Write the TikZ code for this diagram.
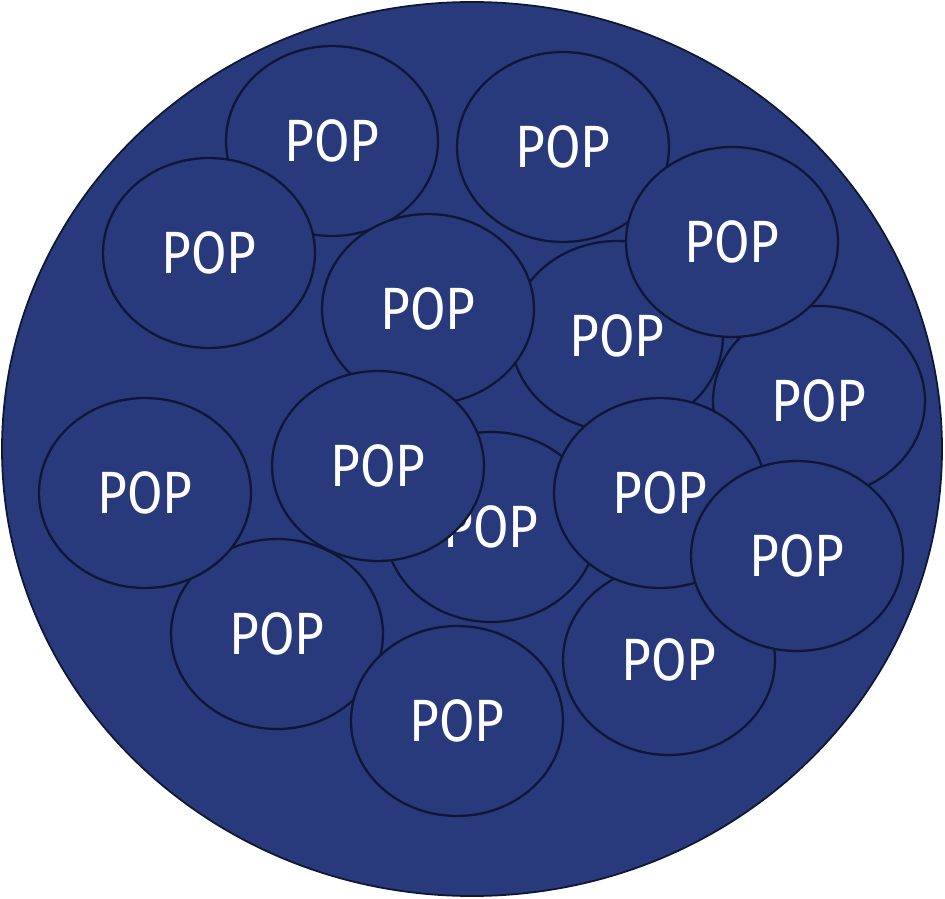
\documentclass[tikz,border=0pt]{standalone}
\usepackage{fontspec}
\usepackage{xcolor}
\usepackage{tikz}
\usetikzlibrary{shapes.geometric}

\newfontfamily\popfont[FakeStretch=0.86]{Fira Sans}
\definecolor{popblue}{HTML}{283A7B}
\definecolor{popline}{HTML}{0E1734}

\begin{document}
\begin{tikzpicture}[
        x=0.02cm, y=-0.02cm,
        font=\popfont\fontsize{34}{40}\selectfont,
        community/.style={
            draw=popline,
            fill=popblue,
            line width=1pt
        },
        pop/.style={
            ellipse,
            draw=popline,
            fill=popblue,
            line width=1.3pt,
            minimum width=4.24cm,
            minimum height=3.8cm,
            inner sep=0pt,
            text=white
        }
    ]
    \useasboundingbox (0,0) rectangle (945,898);

    % Outer community
    \draw [community] (472,449) ellipse [x radius=470, y radius=447];

    % Populations (back to front)
    \node (pop1)  [pop] at (332,141) {POP};
    \node (pop2)  [pop] at (563,147) {POP};
    \node (pop6)  [pop] at (617,336) {POP};
    \node (pop7)  [pop] at (819,401) {POP};
    \node (pop4)  [pop] at (732,242) {POP};
    \node (pop3)  [pop] at (209,253) {POP};
    \node (pop5)  [pop] at (428,309) {POP};
    \node (pop10) [pop] at (491,527) {POP};
    \node (pop13) [pop] at (277,634) {POP};
    \node (pop9)  [pop] at (378,466) {POP};
    \node (pop8)  [pop] at (145,493) {POP};
    \node (pop15) [pop] at (457,721) {POP};
    \node (pop14) [pop] at (669,660) {POP};
    \node (pop11) [pop] at (660,493) {POP};
    \node (pop12) [pop] at (797,556) {POP};

\end{tikzpicture}
\end{document}
